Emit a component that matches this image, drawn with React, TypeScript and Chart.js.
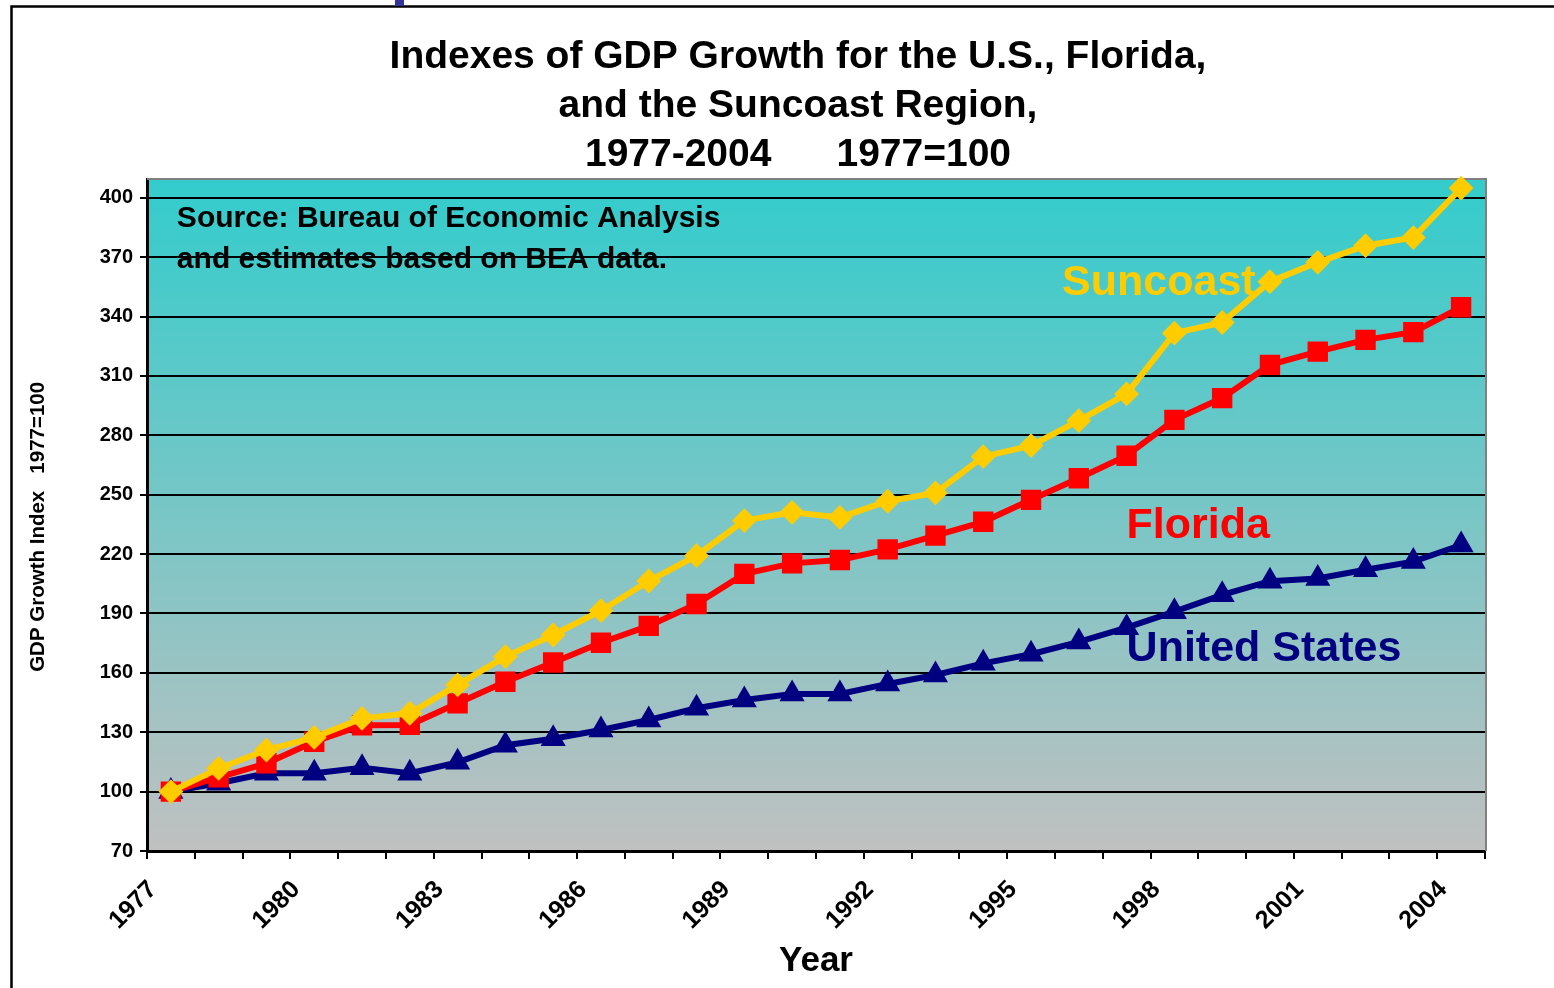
import React, { useEffect, useRef } from "react";
import { Chart, registerables } from "chart.js";

Chart.register(...registerables);

const FONT = "'Liberation Sans', Arial, Helvetica, sans-serif";

const years = [
  "1977", "1978", "1979", "1980", "1981", "1982", "1983", "1984", "1985", "1986",
  "1987", "1988", "1989", "1990", "1991", "1992", "1993", "1994", "1995", "1996",
  "1997", "1998", "1999", "2000", "2001", "2002", "2003", "2004",
];
const labeledYears = ["1977", "1980", "1983", "1986", "1989", "1992", "1995", "1998", "2001", "2004"];
const yTicks = [70, 100, 130, 160, 190, 220, 250, 280, 310, 340, 370, 400];
const yMin = 70;
const yMax = 409;

const suncoast = [
  100, 111.7, 121.0, 127.4, 137.0, 139.6, 153.9, 168.2, 179.1, 191.4,
  206.4, 219.2, 236.9, 241.1, 238.5, 246.7, 250.9, 269.2, 274.8, 287.4,
  300.9, 331.6, 337.0, 357.6, 367.4, 375.8, 379.9, 404.9,
];
const florida = [
  100, 107.2, 114.3, 125.2, 133.5, 133.7, 144.6, 155.5, 165.2, 175.2,
  183.7, 194.8, 210.0, 215.3, 217.0, 222.4, 229.3, 236.3, 247.4, 258.3,
  269.7, 287.8, 298.8, 315.6, 322.3, 328.2, 332.1, 344.7,
];
const unitedStates = [
  100, 104.2, 109.3, 109.3, 112.0, 109.3, 114.8, 123.4, 126.7, 131.1,
  136.2, 142.1, 146.3, 149.3, 149.3, 154.4, 158.9, 164.8, 169.4, 175.6,
  182.8, 190.9, 199.4, 206.3, 207.7, 212.1, 216.2, 224.6,
];

const titleLines = [
  "Indexes of GDP Growth for the U.S., Florida,",
  "and the Suncoast Region,",
  "1977-2004      1977=100",
];
const sourceNote = ["Source: Bureau of Economic Analysis", "and estimates based on BEA data."];
const yAxisTitle = "GDP Growth Index   1977=100    ";
const xAxisTitle = "Year";

const GOLD = "#FFCC00";
const RED = "#FF0000";
const NAVY = "#000080";

const framePlugin = {
  id: "frame",
  afterLayout(chart: any) {
    // let the y axis box reach the left edge so its labels and title are not clipped
    const y = chart.scales.y;
    y.left = 0;
    y.width = y.right;
  },
  beforeDraw(chart: any) {
    const { ctx, chartArea } = chart;
    ctx.save();
    ctx.strokeStyle = "#000";
    ctx.lineWidth = 2.5;
    ctx.strokeRect(11.5, 6.5, 3000, 3000);
    ctx.fillStyle = "#333399";
    ctx.fillRect(395, 0, 9, 6);
    const g = ctx.createLinearGradient(0, chartArea.top, 0, chartArea.bottom);
    g.addColorStop(0, "#33CCCC");
    g.addColorStop(1, "#C0C0C0");
    ctx.fillStyle = g;
    ctx.fillRect(chartArea.left, chartArea.top, chartArea.right - chartArea.left, chartArea.bottom - chartArea.top);
    ctx.restore();
  },
  beforeDatasetsDraw(chart: any) {
    const { ctx, chartArea, scales } = chart;
    ctx.save();
    ctx.strokeStyle = "#808080";
    ctx.lineWidth = 2;
    ctx.beginPath();
    ctx.moveTo(chartArea.left, chartArea.top - 1);
    ctx.lineTo(chartArea.right + 1, chartArea.top - 1);
    ctx.lineTo(chartArea.right + 1, chartArea.bottom);
    ctx.stroke();
    ctx.fillStyle = "#000";
    ctx.font = `bold 30px ${FONT}`;
    ctx.textAlign = "left";
    ctx.textBaseline = "middle";
    const x = scales.x.getPixelForValue(0.125);
    ctx.fillText(sourceNote[0], x, scales.y.getPixelForValue(389.3));
    ctx.fillText(sourceNote[1], x, scales.y.getPixelForValue(368.5));
    ctx.restore();
  },
  afterDatasetsDraw(chart: any) {
    const { ctx, scales } = chart;
    const labels = [
      { text: "Suncoast", color: GOLD, idx: 18.65, val: 357 },
      { text: "Florida", color: RED, idx: 20.0, val: 234 },
      { text: "United States", color: NAVY, idx: 20.0, val: 172 },
    ];
    ctx.save();
    ctx.font = `bold 43px ${FONT}`;
    ctx.textAlign = "left";
    ctx.textBaseline = "middle";
    for (const l of labels) {
      ctx.fillStyle = l.color;
      ctx.fillText(l.text, scales.x.getPixelForValue(l.idx), scales.y.getPixelForValue(l.val));
    }
    ctx.restore();
  },
};

export default function App() {
  const ref = useRef<HTMLCanvasElement>(null);
  useEffect(() => {
    const chart = new Chart(ref.current as HTMLCanvasElement, {
      type: "line",
      data: {
        labels: years,
        datasets: [
          {
            label: "Suncoast",
            data: suncoast,
            borderColor: GOLD,
            backgroundColor: GOLD,
            borderWidth: 6,
            pointStyle: "rectRot",
            pointRadius: 11,
            pointBorderWidth: 2,
            pointBorderColor: GOLD,
            pointBackgroundColor: GOLD,
            tension: 0,
            clip: false,
          },
          {
            label: "Florida",
            data: florida,
            borderColor: RED,
            backgroundColor: RED,
            borderWidth: 6,
            pointStyle: "rect",
            pointRadius: 13,
            pointBorderWidth: 2,
            pointBorderColor: RED,
            pointBackgroundColor: RED,
            tension: 0,
            clip: false,
          },
          {
            label: "United States",
            data: unitedStates,
            borderColor: NAVY,
            backgroundColor: NAVY,
            borderWidth: 6,
            pointStyle: "triangle",
            pointRadius: 12.5,
            pointBorderWidth: 2,
            pointBorderColor: NAVY,
            pointBackgroundColor: NAVY,
            tension: 0,
            clip: false,
          },
        ],
      },
      options: {
        responsive: false,
        animation: false,
        devicePixelRatio: 1,
        layout: { padding: { left: 111, right: 69, top: 0, bottom: 0 } },
        plugins: {
          legend: { display: false },
          tooltip: { enabled: false },
          title: {
            display: true,
            text: titleLines,
            color: "#000",
            font: { family: FONT, size: 39, weight: "bold", lineHeight: 1.256 },
            padding: { top: 33, bottom: 0 },
          },
        },
        scales: {
          x: {
            type: "category",
            offset: true,
            afterFit(scale: any) {
              scale.height = 137;
            },
            grid: {
              display: true,
              offset: true,
              drawOnChartArea: false,
              drawTicks: true,
              tickLength: 8,
              color: "#000",
              lineWidth: 2,
            },
            border: { display: true, color: "#000", width: 3 },
            ticks: {
              autoSkip: false,
              maxRotation: 45,
              minRotation: 45,
              color: "#000",
              padding: 16,
              labelOffset: -18,
              font: { family: FONT, size: 25, weight: "bold" },
              callback: (_v: any, i: number) => (labeledYears.includes(years[i]) ? years[i] : ""),
            },
            title: {
              display: true,
              text: xAxisTitle,
              color: "#000",
              font: { family: FONT, size: 35, weight: "bold", lineHeight: 1.2 },
              padding: { top: 0, bottom: 6 },
            },
          },
          y: {
            type: "linear",
            min: yMin,
            max: yMax,
            afterFit(scale: any) {
              scale.width = 36;
            },
            afterBuildTicks(scale: any) {
              scale.ticks = yTicks.map((v) => ({ value: v }));
            },
            grid: {
              display: true,
              drawOnChartArea: true,
              drawTicks: true,
              tickLength: 7,
              color: "#000",
              lineWidth: 2,
            },
            border: { display: true, color: "#000", width: 3 },
            ticks: {
              color: "#000",
              padding: 7,
              font: { family: FONT, size: 20, weight: "bold" },
            },
            title: {
              display: true,
              text: yAxisTitle,
              color: "#000",
              font: { family: FONT, size: 20.5, weight: "bold", lineHeight: 1.2 },
              padding: { top: 26, bottom: 0 },
            },
          },
        },
      },
      plugins: [framePlugin],
    } as any);
    return () => chart.destroy();
  }, []);
  return (
    <div style={{ position: "absolute", left: 0, top: 0, width: 1554, height: 988 }}>
      <canvas ref={ref} width={1554} height={988} style={{ display: "block", width: 1554, height: 988 }} />
    </div>
  );
}
